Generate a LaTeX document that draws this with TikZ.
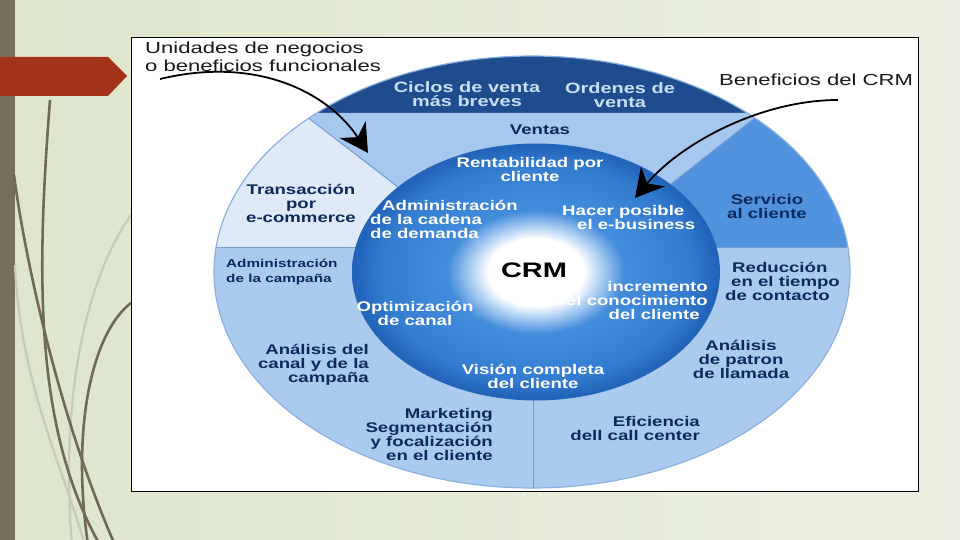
\documentclass[tikz,border=0pt]{standalone}
\usepackage{fontspec}
\newfontfamily\lblfont[FakeStretch=1.33]{Liberation Sans}
\newfontfamily\annfont[FakeStretch=1.38]{Liberation Sans}
\usetikzlibrary{arrows.meta}

\definecolor{bgA}{RGB}{221,229,203}
\definecolor{bgB}{RGB}{237,241,227}
\definecolor{stripec}{RGB}{118,112,88}
\definecolor{curvec}{RGB}{112,106,84}
\definecolor{faintc}{RGB}{198,204,184}
\definecolor{redarrow}{RGB}{162,50,24}
\definecolor{navycap}{RGB}{30,76,140}
\definecolor{ventasc}{RGB}{166,200,238}
\definecolor{paleb}{RGB}{222,234,247}
\definecolor{servc}{RGB}{80,146,222}
\definecolor{lowc}{RGB}{170,203,238}
\definecolor{divc}{RGB}{118,156,208}
\definecolor{rimc}{RGB}{140,178,226}
\definecolor{txtnavy}{RGB}{12,42,92}
\definecolor{txtcap}{RGB}{200,222,246}
\definecolor{glowmid}{RGB}{170,205,242}
\definecolor{inA}{RGB}{68,140,220}
\definecolor{inB}{RGB}{52,124,208}
\definecolor{inC}{RGB}{34,100,186}

\pgfdeclareradialshading{crmglow}{\pgfpoint{0bp}{0bp}}{%
  color(0bp)=(white); color(6.5bp)=(white); color(9bp)=(glowmid);
  color(12bp)=(inA); color(21bp)=(inB); color(24.5bp)=(inC); color(25bp)=(inC); color(50bp)=(inC)}

\tikzset{
  lbl/.style={font=\lblfont\bfseries\fontsize{14}{14}\selectfont, text=txtnavy, align=center, inner sep=0pt},
  inw/.style={lbl, text=white},
  capt/.style={font=\lblfont\bfseries\fontsize{15}{14}\selectfont, text=txtcap, align=center, inner sep=0pt},
  ann/.style={font=\annfont\fontsize{16}{18}\selectfont, text=black!90, align=left, inner sep=0pt},
  smalllbl/.style={font=\lblfont\bfseries\fontsize{11.5}{15}\selectfont, text=txtnavy, align=left, inner sep=0pt},
  divider/.style={draw=divc, line width=1pt},
  decocurve/.style={draw=curvec, line width=2.6pt},
  faintcurve/.style={draw=faintc, line width=2.2pt},
  bigarrow/.style={draw=black, line width=1.8pt, -{Stealth[length=28pt, width=31pt, inset=9pt]}}
}

\begin{document}
\begin{tikzpicture}[x=1pt, y=-1pt]
\useasboundingbox (0,0) rectangle (960,540);
% slide background
\shade[left color=bgA, right color=bgB] (0,0) rectangle (960,540);
\fill[stripec] (0,0) rectangle (15,540);
% decorative curves
\draw[faintcurve] (131,215) .. controls (85,280) and (60,400) .. (72,545);
\draw[faintcurve] (15,265) .. controls (20,380) and (60,460) .. (85,545);
\draw[decocurve] (50,100) .. controls (36,280) and (35,430) .. (100,545);
\draw[decocurve] (14,175) .. controls (25,260) and (60,420) .. (115,545);
\draw[decocurve] (131,303) .. controls (95,330) and (70,420) .. (88,545);
% red arrow
\fill[redarrow] (0,57) -- (108,57) -- (127,76) -- (108,96) -- (0,96) -- cycle;
% picture frame
\draw[black, line width=1pt, fill=white] (131,38) rectangle (918,491);

% outer ellipse sectors
\begin{scope}
  \clip (532,272) ellipse [x radius=318, y radius=216];
  \fill[lowc] (200,40) rectangle (860,500);
  \fill[paleb] (200,113) rectangle (536,247);
  \fill[servc] (536,113) rectangle (860,247);
  \fill[navycap] (200,40) rectangle (860,113);
  \fill[ventasc] (302,113) -- (761,113) -- (652,199) -- (536,272) -- (420,204) -- cycle;
  \draw[divider] (302,113) -- (420,204);
  \draw[divider] (761,113) -- (652,199);
  \draw[divider] (200,247) -- (420,247);
  \draw[divider] (650,247) -- (860,247);
  \draw[divider] (533,350) -- (533,500);
\end{scope}
\draw[rimc, line width=1.2pt] (532,272) ellipse [x radius=318, y radius=216];

% inner circle
\shade[shading=crmglow] (536,272) ellipse [x radius=184, y radius=128.5];

% labels in the navy cap
\node[capt] (ciclos) at (467,94) {Ciclos de venta\\más breves};
\node[capt] (ordenes) at (620,95) {Ordenes de\\venta};
% outer ring labels
\node[lbl] (ventas) at (540,130) {Ventas};
\node[lbl] (trans) at (301,203) {Transacción\\por\\e-commerce};
\node[lbl] (serv) at (767,206) {Servicio\\al cliente};
\node[smalllbl, anchor=west] (admc) at (226,272) {Administración\\de la campaña};
\node[lbl, anchor=west, align=left] (reduc) at (725,281) {\hspace*{7pt}Reducción\\\hspace*{6pt}en el tiempo\\de contacto};
\node[lbl, anchor=east, align=right] (anal1) at (369,365) {Análisis del\\canal y de la\\campaña};
\node[lbl] (anal2) at (741,359) {Análisis\\de patron\\de llamada};
\node[lbl, anchor=east, align=right] (mkt) at (493,434) {Marketing\\Segmentación\\y focalización\\en el cliente};
\node[lbl, anchor=east, align=right] (efic) at (700,428) {Eficiencia\\dell call center};
% inner circle labels
\node[inw] (rent) at (530,169) {Rentabilidad por\\cliente};
\node[inw, anchor=west, align=left] (adm) at (370,219) {\hspace*{12pt}Administración\\de la cadena\\de demanda};
\node[inw, anchor=west, align=left] (hacer) at (562,217) {Hacer posible\\\hspace*{15pt}el e-business};
\node[font=\annfont\bfseries\fontsize{21}{21}\selectfont, inner sep=0pt] (crm) at (534,270) {CRM};
\node[inw, anchor=east, align=right] (incr) at (708,300) {incremento\\del conocimiento\\del cliente\hspace*{8pt}};
\node[inw] (opt) at (415,313) {Optimización\\de canal};
\node[inw] (vision) at (533,376) {Visión completa\\del cliente};

% annotations
\node[ann, anchor=west] (unid) at (145,57) {Unidades de negocios\\o beneficios funcionales};
\node[ann] (benef) at (816,80) {Beneficios del CRM};
\coordinate (u0) at (160,79);
\coordinate (u1) at (368,153);
\coordinate (b0) at (838,100);
\coordinate (b1) at (635,198);
\draw[bigarrow] (u0) .. controls (260,55) and (330,95) .. (u1);
\draw[bigarrow] (b0) .. controls (760,100) and (680,144) .. (b1);
\end{tikzpicture}
\end{document}
